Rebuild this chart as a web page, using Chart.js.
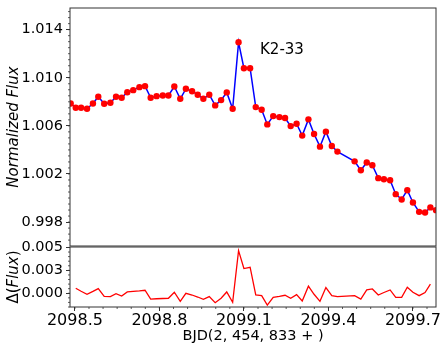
<!DOCTYPE html>
<html><head><meta charset="utf-8">
<script src="https://cdn.jsdelivr.net/npm/chart.js@4"></script>
<style>
html,body{margin:0;padding:0;background:#fff;}
#wrap{position:relative;width:447px;height:350px;overflow:hidden;background:#fff;}
canvas{position:absolute;left:0;}
#top{top:0;}
#bot{top:230px;}
</style></head><body>
<div id="wrap"><canvas id="top" width="447" height="250"></canvas><canvas id="bot" width="447" height="120"></canvas></div>
<script>
// ---- data ----
const time = [2098.485,2098.503,2098.522,2098.543,2098.564,2098.583,2098.604,2098.626,2098.646,2098.666,
  2098.686,2098.707,2098.729,2098.749,2098.769,2098.790,2098.812,2098.832,2098.853,2098.874,
  2098.894,2098.916,2098.936,2098.956,2098.977,2098.998,2099.019,2099.039,2099.060,2099.081,
  2099.100,2099.122,2099.142,2099.163,2099.183,2099.204,2099.226,2099.246,2099.266,2099.287,
  2099.307,2099.329,2099.349,2099.370,2099.391,2099.412,2099.432,2099.493,2099.515,2099.536,
  2099.556,2099.577,2099.597,2099.619,2099.639,2099.660,2099.680,2099.700,2099.722,2099.743,
  2099.762,2099.782];
const flux = [1.00786,1.00751,1.00751,1.00742,1.00786,1.00842,1.00784,1.00792,1.00842,1.00834,
  1.00880,1.00897,1.00922,1.00930,1.00834,1.00847,1.00853,1.00853,1.00927,1.00825,
  1.00908,1.00888,1.00859,1.00825,1.00859,1.00770,1.00814,1.00878,1.00742,1.01295,
  1.01079,1.01079,1.00756,1.00734,1.00612,1.00681,1.00673,1.00665,1.00598,1.00618,
  1.00519,1.00654,1.00532,1.00427,1.00552,1.00432,1.00386,1.00305,1.00231,1.00295,
  1.00272,1.00165,1.00156,1.00148,1.00032,0.99988,1.00065,0.99963,0.99885,0.99880,
  0.99922,0.99899];
const residual = [null,0.00055,0.00022,-0.00011,0.00020,0.00051,-0.00033,-0.00037,-0.00004,-0.00030,
  0.00014,0.00020,0.00025,0.00033,-0.00063,-0.00060,-0.00057,-0.00055,0.00011,-0.00088,
  0.00000,-0.00019,-0.00041,-0.00066,-0.00037,-0.00103,-0.00055,0.00014,-0.00099,0.00465,
  0.00270,0.00284,-0.00019,-0.00026,-0.00129,-0.00044,-0.00034,-0.00022,-0.00055,-0.00015,
  -0.00085,0.00077,-0.00011,-0.00088,0.00062,-0.00026,-0.00037,-0.00026,-0.00063,0.00036,
  0.00047,-0.00019,0.00008,0.00036,-0.00044,-0.00044,0.00066,0.00011,-0.00026,0.00007,
  0.00099,null];
const xTicks = [2098.5, 2098.8, 2099.1, 2099.4, 2099.7];
const xTickLabels = ['2098.5','2098.8','2099.1','2099.4','2099.7'];
const fluxTicks = [0.998, 1.002, 1.006, 1.010, 1.014];
const fluxTickLabels = ['0.998','1.002','1.006','1.010','1.014'];
const residTicks = [0, 0.0025, 0.005];
const residTickLabels = ['0.000','0.003','0.005'];
const targetName = 'K2-33';

// ---- layout / style ----
const X_MIN = 2098.4826, X_MAX = 2099.7819;
const FLUX_MIN = 0.99601, FLUX_MAX = 1.0158;
const RES_MIN = -0.0015, RES_MAX = 0.00505;
const LABEL_AT = {x: 2099.235, y: 1.01226};
const FONT = "'DejaVu Sans', sans-serif";
const AXIS_W = 70;
Chart.defaults.color = '#000';
Chart.defaults.font.family = FONT;

const noPad = s => { s.paddingTop = 0; s.paddingBottom = 0; s.paddingLeft = 0; s.paddingRight = 0; };

const framePlugin = {
  id: 'frame',
  afterDraw(chart, args, o) {
    const {ctx, chartArea: a} = chart;
    ctx.save();
    ctx.strokeStyle = '#333'; ctx.lineWidth = 1;
    ctx.strokeRect(a.left, a.top, a.right - a.left, a.bottom - a.top);
    ctx.beginPath();
    (o.minor || []).forEach(m => {
      const s = chart.scales[m.axis];
      const start = Math.ceil(s.min / m.step) * m.step;
      for (let v = start; v <= s.max + 1e-12; v += m.step) {
        const p = s.getPixelForValue(v);
        if (m.axis === 'y') { ctx.moveTo(a.left, p); ctx.lineTo(a.left - 2, p); }
        else { ctx.moveTo(p, a.bottom); ctx.lineTo(p, a.bottom + 2); }
      }
    });
    ctx.lineWidth = 0.8; ctx.stroke();
    if (o.text) {
      const x = chart.scales.x.getPixelForValue(o.text.x);
      const y = chart.scales.y.getPixelForValue(o.text.y);
      ctx.font = '15px ' + FONT; ctx.fillStyle = '#000';
      ctx.textAlign = 'center'; ctx.textBaseline = 'middle';
      ctx.fillText(o.text.label, x, y);
    }
    if (o.ylabel) {
      const cx = o.ylabel.x, cy = (a.top + a.bottom) / 2;
      ctx.translate(cx, cy); ctx.rotate(-Math.PI / 2);
      ctx.textBaseline = 'middle'; ctx.textAlign = 'left'; ctx.fillStyle = '#000';
      const parts = o.ylabel.parts.map(p => {
        ctx.font = (p.italic ? 'italic ' : '') + o.ylabel.size + 'px ' + FONT;
        return {t: p.t, f: ctx.font, w: ctx.measureText(p.t).width};
      });
      let x = -parts.reduce((s, p) => s + p.w, 0) / 2;
      parts.forEach(p => { ctx.font = p.f; ctx.fillText(p.t, x, 0); x += p.w; });
    }
    ctx.restore();
  }
};

const tickGrid = {drawOnChartArea: false, drawTicks: true, tickLength: 4, color: '#333', tickWidth: 1};

new Chart(document.getElementById('top'), {
  type: 'line',
  data: {datasets: [{
    data: time.map((t, i) => ({x: t, y: flux[i]})),
    borderColor: '#0000ff', borderWidth: 1.5, tension: 0,
    pointRadius: 3.2, pointBackgroundColor: '#ff0000', pointBorderWidth: 0,
    clip: 0
  }]},
  options: {
    responsive: false, devicePixelRatio: 1, animation: false,
    layout: {padding: {top: 8, bottom: 3, left: 0, right: 11}},
    plugins: {legend: {display: false}, tooltip: {enabled: false},
      frame: {minor: [{axis: 'y', step: 0.0005}], text: {x: LABEL_AT.x, y: LABEL_AT.y, label: targetName}}},
    scales: {
      x: {type: 'linear', min: X_MIN, max: X_MAX, display: false},
      y: {min: FLUX_MIN, max: FLUX_MAX,
        afterBuildTicks: s => { s.ticks = fluxTicks.map(v => ({value: v})); },
        afterFit: s => { s.width = AXIS_W; noPad(s); },
        ticks: {font: {size: 14.5}, padding: 3, autoSkip: false,
          callback: v => fluxTickLabels[fluxTicks.indexOf(v)]},
        grid: tickGrid, border: {display: false},
        title: {display: true, text: 'Normalized Flux', font: {size: 15, style: 'italic'}, padding: {top: 5, bottom: 0}}
      }
    }
  },
  plugins: [framePlugin]
});

new Chart(document.getElementById('bot'), {
  type: 'line',
  data: {datasets: [{
    data: time.map((t, i) => ({x: t, y: residual[i]})),
    borderColor: '#ff0000', borderWidth: 1.3, tension: 0, pointRadius: 0, clip: 0
  }]},
  options: {
    responsive: false, devicePixelRatio: 1, animation: false,
    layout: {padding: {top: 17, bottom: 0, left: 0, right: 11}},
    plugins: {legend: {display: false}, tooltip: {enabled: false},
      frame: {minor: [{axis: 'y', step: 0.0005}, {axis: 'x', step: 0.05}],
        ylabel: {x: 14, size: 15, parts: [{t: 'Δ('}, {t: 'Flux', italic: true}, {t: ')'}]}}},
    scales: {
      x: {type: 'linear', min: X_MIN, max: X_MAX,
        afterBuildTicks: s => { s.ticks = xTicks.map(v => ({value: v})); },
        afterFit: s => { s.height = 43; noPad(s); },
        ticks: {font: {size: 16}, padding: 0, autoSkip: false, maxRotation: 0,
          callback: v => xTickLabels[xTicks.indexOf(v)]},
        grid: tickGrid, border: {display: false},
        title: {display: true, text: 'BJD(2, 454, 833 + )', font: {size: 14.5}, padding: {top: 0, bottom: 5}}
      },
      y: {min: RES_MIN, max: RES_MAX,
        afterBuildTicks: s => { s.ticks = residTicks.map(v => ({value: v})); },
        afterFit: s => { s.width = AXIS_W; noPad(s); },
        ticks: {font: {size: 14.5}, padding: 3, autoSkip: false,
          callback: v => residTickLabels[residTicks.indexOf(v)]},
        grid: tickGrid, border: {display: false},
        title: {display: false}
      }
    }
  },
  plugins: [framePlugin]
});
</script>
</body></html>
